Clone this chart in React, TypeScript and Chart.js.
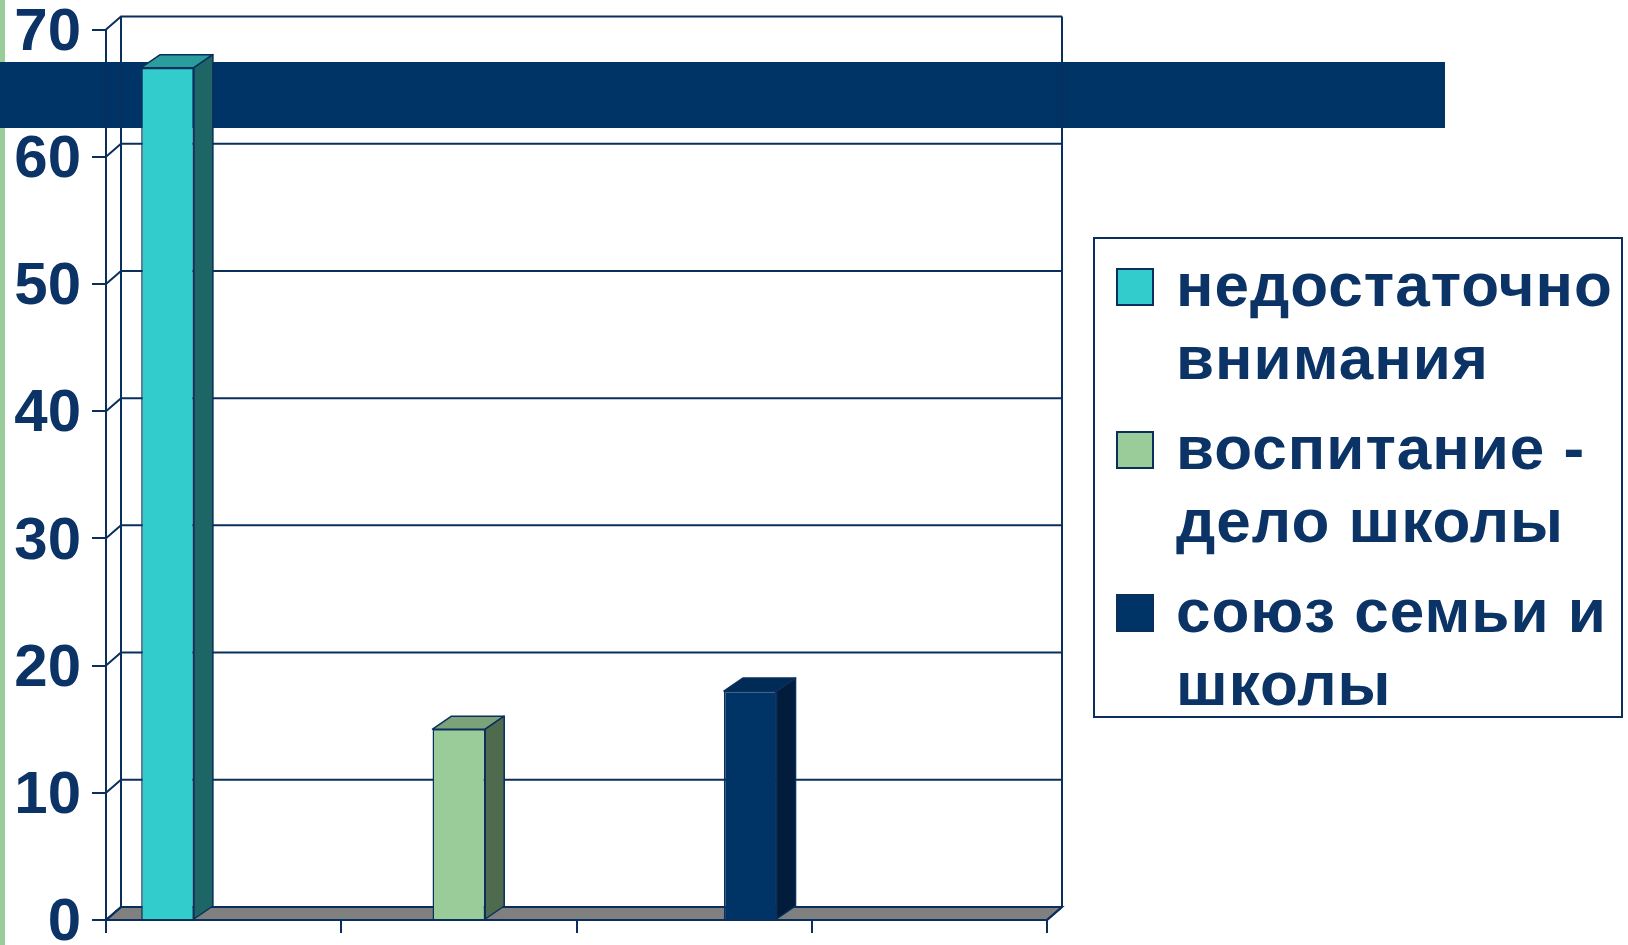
import React, { useEffect, useRef } from 'react';
import { Chart, registerables } from 'chart.js';

Chart.register(...registerables);

// ---- data ----
const categories = ['', '', '', ''];
const seriesNames = ['недостаточно внимания', 'воспитание - дело школы', 'союз семьи и школы'];
const legendLines = [
  ['недостаточно', 'внимания'],
  ['воспитание -', 'дело школы'],
  ['союз семьи и', 'школы'],
];
const seriesInattention = [67, null, null, null];
const seriesSchool = [null, 15, null, null];
const seriesUnion = [null, null, 18, null];
const yMin = 0;
const yMax = 70;
const yStep = 10;

// ---- styles ----
const NAVY = '#0a2f5c';
const TEXT = '#0b3366';
const frontColors = ['#33cccc', '#99cc99', '#003366'];
const topColors = ['#2a9e9e', '#7aa37a', '#002b57'];
const sideColors = ['#1e6666', '#4e6b4e', '#011d3b'];

const threeD = {
  id: 'threeD',
  beforeDraw(chart: any) {
    const { ctx, height } = chart;
    ctx.save();
    ctx.fillStyle = '#99cc99';
    ctx.fillRect(0, 0, 5, height);
    ctx.fillStyle = '#003366';
    ctx.fillRect(0, 62, 1445, 66);
    ctx.restore();
  },
  beforeDatasetsDraw(chart: any) {
    const { ctx, chartArea: a, scales } = chart;
    const ys = scales.y;
    const dx = 15;
    const dy = -13;
    ctx.save();
    ctx.lineWidth = 2;
    ctx.strokeStyle = NAVY;
    // floor
    ctx.beginPath();
    ctx.moveTo(a.left, a.bottom);
    ctx.lineTo(a.right, a.bottom);
    ctx.lineTo(a.right + dx, a.bottom + dy);
    ctx.lineTo(a.left + dx, a.bottom + dy);
    ctx.closePath();
    ctx.fillStyle = '#808080';
    ctx.fill();
    ctx.stroke();
    // back wall grid lines
    ys.ticks.forEach((t: any) => {
      const py = ys.getPixelForValue(t.value);
      ctx.beginPath();
      ctx.moveTo(a.left, py);
      ctx.lineTo(a.left + dx, py + dy);
      ctx.lineTo(a.right + dx, py + dy);
      ctx.stroke();
    });
    // wall edges
    ctx.beginPath();
    ctx.moveTo(a.left + dx, a.top + dy);
    ctx.lineTo(a.left + dx, a.bottom + dy);
    ctx.moveTo(a.right + dx, a.top + dy);
    ctx.lineTo(a.right + dx, a.bottom + dy);
    ctx.moveTo(a.right, a.bottom);
    ctx.lineTo(a.right + dx, a.bottom + dy);
    ctx.stroke();
    ctx.restore();
  },
  afterDatasetsDraw(chart: any) {
    const { ctx } = chart;
    const dx = 19;
    const dy = -13;
    ctx.save();
    ctx.lineWidth = 1.5;
    ctx.strokeStyle = NAVY;
    ctx.lineJoin = 'round';
    chart.data.datasets.forEach((ds: any, i: number) => {
      const meta = chart.getDatasetMeta(i);
      meta.data.forEach((bar: any, j: number) => {
        if (ds.data[j] == null) return;
        const { x, y, base, width } = bar.getProps(['x', 'y', 'base', 'width'], true);
        const l = x - width / 2;
        const r = x + width / 2;
        // top face
        ctx.beginPath();
        ctx.moveTo(l, y);
        ctx.lineTo(l + dx, y + dy);
        ctx.lineTo(r + dx, y + dy);
        ctx.lineTo(r, y);
        ctx.closePath();
        ctx.fillStyle = topColors[i];
        ctx.fill();
        ctx.stroke();
        // side face
        ctx.beginPath();
        ctx.moveTo(r, y);
        ctx.lineTo(r + dx, y + dy);
        ctx.lineTo(r + dx, base + dy);
        ctx.lineTo(r, base);
        ctx.closePath();
        ctx.fillStyle = sideColors[i];
        ctx.fill();
        ctx.stroke();
      });
    });
    ctx.restore();
  },
};

export default function App() {
  const ref = useRef<HTMLCanvasElement | null>(null);

  useEffect(() => {
    if (!ref.current) return;
    const seriesData = [seriesInattention, seriesSchool, seriesUnion];
    const chart = new Chart(ref.current, {
      type: 'bar',
      data: {
        labels: categories,
        datasets: seriesData.map((d, i) => ({
          label: seriesNames[i],
          data: d,
          backgroundColor: frontColors[i],
          borderColor: NAVY,
          borderWidth: 1.5,
          categoryPercentage: 0.715,
          barPercentage: 0.94,
        })),
      },
      options: {
        responsive: false,
        animation: false,
        layout: { padding: { left: 0, top: 29.5, right: 581, bottom: 0 } },
        plugins: { legend: { display: false }, tooltip: { enabled: false } },
        scales: {
          x: {
            type: 'category',
            offset: true,
            grid: { offset: true, drawOnChartArea: false, drawTicks: true, tickLength: 13, color: NAVY, lineWidth: 2 },
            border: { display: true, color: NAVY, width: 2 },
            ticks: { display: false },
            afterFit: (s: any) => {
              s.height = 25;
              s.paddingLeft = 0;
              s.paddingRight = 0;
            },
          },
          y: {
            min: yMin,
            max: yMax,
            ticks: {
              stepSize: yStep,
              padding: 11,
              color: TEXT,
              // empty first line nudges the digits slightly below the tick, as in the original
              callback: (v: any) => ['', String(v)],
              font: { family: '"Liberation Sans", Arial, sans-serif', weight: 'bold', size: 60, lineHeight: 0.12 },
            },
            grid: { drawOnChartArea: false, drawTicks: true, tickLength: 14, color: NAVY, lineWidth: 2 },
            border: { display: true, color: NAVY, width: 2 },
            afterFit: (s: any) => {
              s.width = 106;
              s.paddingTop = 0;
              s.paddingBottom = 0;
            },
          },
        },
      },
      plugins: [threeD],
    } as any);
    return () => chart.destroy();
  }, []);

  return (
    <div style={{ position: 'absolute', left: 0, top: 0, width: 1628, height: 945, background: '#fff', overflow: 'hidden' }}>
      <canvas ref={ref} width={1628} height={945} style={{ position: 'absolute', left: 0, top: 0 }} />
      <div
        style={{
          position: 'absolute', left: 1093, top: 237, width: 530, height: 481, boxSizing: 'border-box',
          border: `2px solid ${NAVY}`, background: '#fff', paddingTop: 9,
          fontFamily: '"Liberation Sans", Arial, sans-serif', fontWeight: 'bold', fontSize: 62,
          lineHeight: '73px', color: TEXT, letterSpacing: 1,
        }}
      >
        {legendLines.map((lines, i) => (
          <div key={i} style={{ position: 'relative', paddingLeft: 81, marginBottom: 17 }}>
            <div
              style={{
                position: 'absolute', left: 21, top: 20, width: 38, height: 38, boxSizing: 'border-box',
                background: frontColors[i], border: `2px solid ${NAVY}`,
              }}
            />
            {lines.map((t, k) => (
              <div key={k} style={{ whiteSpace: 'nowrap' }}>{t}</div>
            ))}
          </div>
        ))}
      </div>
    </div>
  );
}
